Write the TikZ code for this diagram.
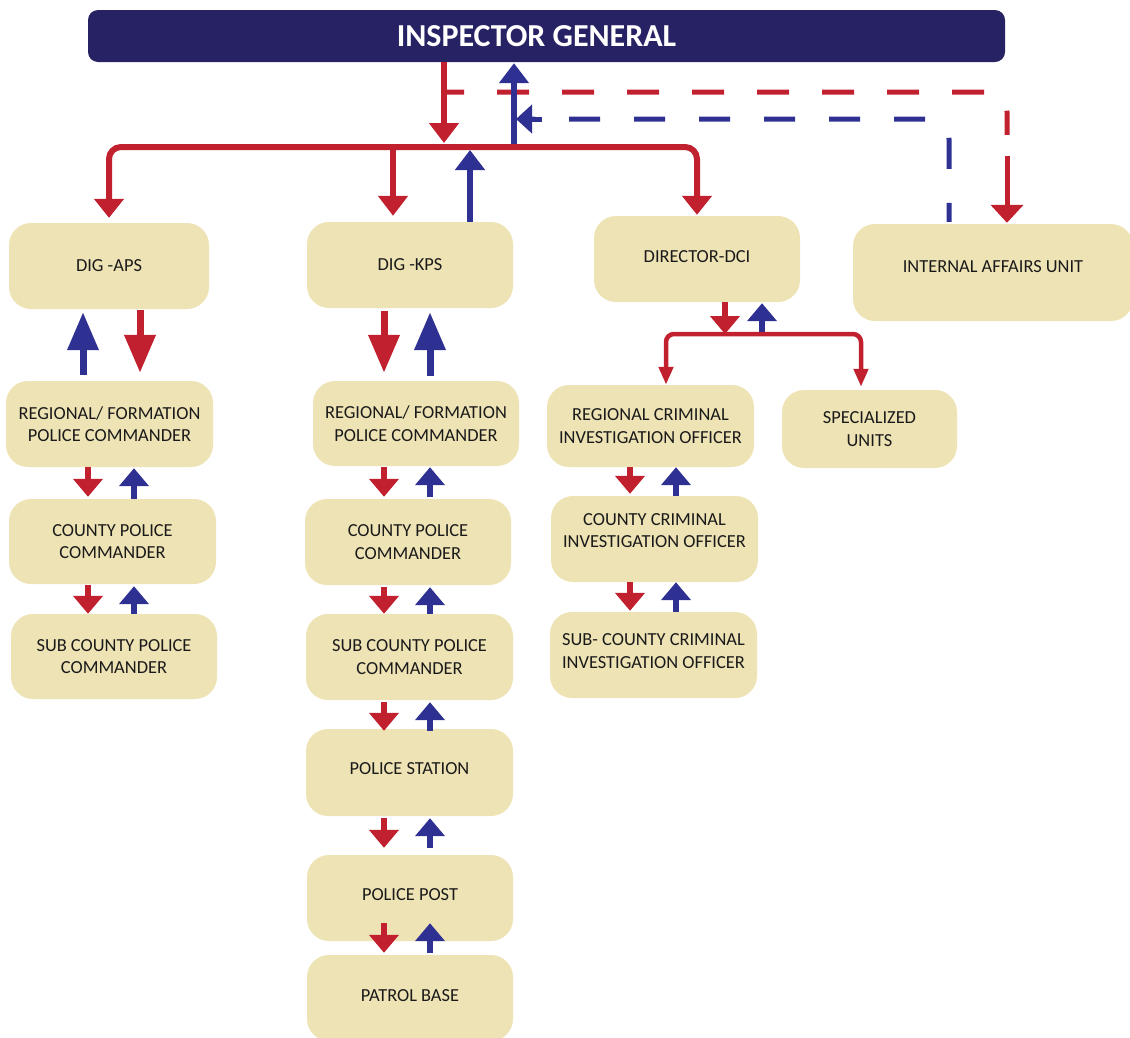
\documentclass[tikz,border=0pt]{standalone}
\usepackage{fontspec}
\setmainfont{Carlito}
\usetikzlibrary{arrows.meta}
\definecolor{navy}{HTML}{272263}
\definecolor{rd}{HTML}{C1202F}
\definecolor{bl}{HTML}{2E3192}
\definecolor{beige}{HTML}{EEE3B5}
\definecolor{ink}{HTML}{1A1A1A}
\begin{document}
\begin{tikzpicture}[x=1pt,y=-1pt,
  box/.style={fill=beige, rounded corners=22pt, inner sep=0pt, align=center,
    font=\fontsize{18.4}{22.5}\selectfont, text=ink},
  sz/.style 2 args={minimum width=#1pt, minimum height=#2pt},
  tup/.style={text depth=#1pt},
  rbig/.style={draw=rd, line width=7pt, -{Triangle[width=30pt,length=38pt]}},
  bbig/.style={draw=bl, line width=7pt, -{Triangle[width=30pt,length=38pt]}},
  rsm/.style={draw=rd, line width=6pt, -{Triangle[width=29pt,length=18pt]}},
  bsm/.style={draw=bl, line width=6pt, -{Triangle[width=29pt,length=18pt]}},
  rtop/.style={draw=rd, line width=5.5pt, -{Triangle[width=29pt,length=20pt]}},
  btop/.style={draw=bl, line width=5.5pt, -{Triangle[width=29pt,length=20pt]}},
  rdash/.style={draw=rd, line width=5pt, dash pattern=on 32pt off 33pt, dash phase=12pt, rounded corners=20pt},
  bdash/.style={draw=bl, line width=5pt, dash pattern=on 31pt off 34pt, dash phase=12pt, rounded corners=20pt}
]
\useasboundingbox (0,0) rectangle (1130,1037);

% ---------- boxes ----------
\node[fill=navy, rounded corners=10pt, minimum width=917pt, minimum height=52pt, inner sep=0pt,
  text=white, font=\bfseries\fontsize{32}{34}\selectfont] (ig) at (546.5,36) {INSPECTOR GENERAL\hspace*{20pt}};

\node[box, sz={200}{86}] (aps) at (109,266) {DIG -APS};
\node[box, sz={206}{86}] (kps) at (410,265) {DIG -KPS};
\node[box, sz={206}{86}, tup=4] (dci) at (697,259) {DIRECTOR-DCI};
\node[box, sz={280}{97}, tup=11] (ia) at (993,272.5) {INTERNAL AFFAIRS UNIT};

\node[box, sz={207}{86}] (apsreg) at (109.5,424) {REGIONAL/ FORMATION\\POLICE COMMANDER};
\node[box, sz={207}{85}] (apscty) at (112.5,541.5) {COUNTY POLICE\\COMMANDER};
\node[box, sz={206}{85}] (apssub) at (114,656.5) {SUB COUNTY POLICE\\COMMANDER};

\node[box, sz={206}{85}] (kpsreg) at (416,423.5) {REGIONAL/ FORMATION\\POLICE COMMANDER};
\node[box, sz={206}{86}] (kpscty) at (408,542) {COUNTY POLICE\\COMMANDER};
\node[box, sz={207}{86}] (kpssub) at (409.5,657) {SUB COUNTY POLICE\\COMMANDER};
\node[box, sz={207}{87}, tup=7] (stn) at (409.5,772.5) {POLICE STATION};
\node[box, sz={206}{86}, tup=6] (post) at (410,898) {POLICE POST};
\node[box, sz={206}{86}, tup=4] (patrol) at (410,998) {PATROL BASE};

\node[box, sz={207}{82}] (dcireg) at (650.5,426) {REGIONAL CRIMINAL\\INVESTIGATION OFFICER};
\node[box, sz={175}{78}] (spec) at (869.5,429) {SPECIALIZED\\UNITS};
\node[box, sz={207}{86}, tup=17] (dcicty) at (654.5,539) {COUNTY CRIMINAL\\INVESTIGATION OFFICER};
\node[box, sz={207}{86}, tup=8] (dcisub) at (653.5,655) {SUB- COUNTY CRIMINAL\\INVESTIGATION OFFICER};

% ---------- helper coordinates ----------
\coordinate (hub) at (444,147);
\coordinate (barb) at (0,150);
\coordinate (bup) at (514,144);
\coordinate (rds) at (444,92);
\coordinate (bds) at (516,119);
\coordinate (dbar) at (725,334);
\coordinate (apsR) at (140,0);
\coordinate (apsB) at (83,0);
\coordinate (apsr) at (88,0);
\coordinate (apsb) at (134,0);
\coordinate (kR) at (384,0);
\coordinate (kB) at (430,0);
\coordinate (dR) at (630,0);
\coordinate (dB) at (676,0);

% ---------- top level ----------
\draw[rdash] (rds) -| ([xshift=14pt,yshift=89pt]ia.north);
\draw[rd, line width=5pt, -{Triangle[width=32pt,length=18pt]}] ([xshift=14pt,yshift=68pt]ia.north) -- ([xshift=14pt,yshift=1pt]ia.north);
\draw[bdash] ([xshift=-44pt,yshift=2pt]ia.north) |- ([xshift=12pt]bds);
\draw[bl, line width=5pt, -{Triangle[width=28pt,length=16pt]}] ([xshift=26pt]bds) -- (bds);

\draw[rtop] (ig.south -| hub) -- ([yshift=4pt]hub);
\draw[btop] (bup) -- ([yshift=-1pt]ig.south -| bup);
\draw[rd, line width=6pt, rounded corners=12pt, -{Triangle[width=29pt,length=19pt]}] (hub) -| ([yshift=5pt]aps.north);
\draw[rd, line width=6pt, rounded corners=12pt, -{Triangle[width=29pt,length=19pt]}] (hub) -| ([yshift=1pt]dci.north);
\draw[rtop] ([xshift=-17pt]kps.north |- hub) -- ([xshift=-17pt,yshift=6pt]kps.north);
\draw[btop] ([xshift=60pt]kps.north) -- ([xshift=60pt]kps.north |- barb);

% ---------- APS column ----------
\draw[rbig] ([yshift=-1pt]aps.south -| apsR) -- ([yshift=8pt]apsreg.north -| apsR);
\draw[bbig] ([yshift=6pt]apsreg.north -| apsB) -- ([yshift=-3pt]aps.south -| apsB);
\draw[rsm] (apsreg.south -| apsr) -- ([yshift=2pt]apscty.north -| apsr);
\draw[bsm] (apscty.north -| apsb) -- ([yshift=-1pt]apsreg.south -| apsb);
\draw[rsm] ([yshift=-1pt]apscty.south -| apsr) -- (apssub.north -| apsr);
\draw[bsm] (apssub.north -| apsb) -- ([yshift=-2pt]apscty.south -| apsb);

% ---------- KPS column ----------
\draw[rbig] ([yshift=-3pt]kps.south -| kR) -- ([yshift=8pt]kpsreg.north -| kR);
\draw[bbig] ([yshift=5pt]kpsreg.north -| kB) -- ([yshift=-4pt]kps.south -| kB);
\draw[rsm] ([yshift=-1pt]kpsreg.south -| kR) -- ([yshift=2pt]kpscty.north -| kR);
\draw[bsm] ([yshift=2pt]kpscty.north -| kB) -- ([yshift=-1pt]kpsreg.south -| kB);
\draw[rsm] ([yshift=-2pt]kpscty.south -| kR) -- (kpssub.north -| kR);
\draw[bsm] (kpssub.north -| kB) -- ([yshift=-2pt]kpscty.south -| kB);
\draw[rsm] ([yshift=-2pt]kpssub.south -| kR) -- ([yshift=-2pt]stn.north -| kR);
\draw[bsm] ([yshift=-2pt]stn.north -| kB) -- ([yshift=-2pt]kpssub.south -| kB);
\draw[rsm] ([yshift=-2pt]stn.south -| kR) -- ([yshift=7pt]post.north -| kR);
\draw[bsm] ([yshift=7pt]post.north -| kB) -- ([yshift=-2pt]stn.south -| kB);
\draw[rsm] ([yshift=18pt]post.south -| kR) -- ([yshift=2pt]patrol.north -| kR);
\draw[bsm] ([yshift=2pt]patrol.north -| kB) -- ([yshift=18pt]post.south -| kB);

% ---------- DCI column ----------
\draw[rsm] ([xshift=28pt]dci.south) -- (dbar);
\draw[bsm] ([xshift=65pt]dci.south |- dbar) -- ([xshift=65pt,yshift=-1pt]dci.south);
\draw[rd, line width=4.5pt, rounded corners=8pt, -{Triangle[width=14pt,length=18pt]}] (dbar) -| ([xshift=15.5pt]dcireg.north);
\draw[rd, line width=4.5pt, rounded corners=8pt, -{Triangle[width=14pt,length=18pt]}] (dbar) -| ([xshift=-8.5pt,yshift=3pt]spec.north);
\draw[rsm] (dcireg.south -| dR) -- ([yshift=2pt]dcicty.north -| dR);
\draw[bsm] (dcicty.north -| dB) -- (dcireg.south -| dB);
\draw[rsm] (dcicty.south -| dR) -- ([yshift=1pt]dcisub.north -| dR);
\draw[bsm] (dcisub.north -| dB) -- (dcicty.south -| dB);
\end{tikzpicture}
\end{document}
